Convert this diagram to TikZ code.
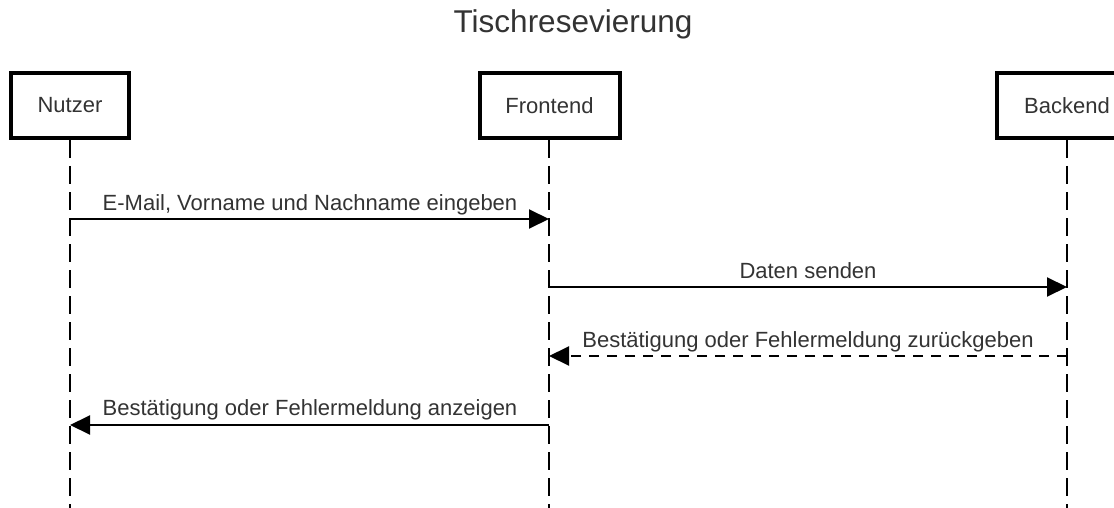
\documentclass[tikz,border=0pt]{standalone}
\usepackage{fontspec}
\setmainfont{Liberation Sans}
\usetikzlibrary{arrows.meta}
\tikzset{
  actor/.style={draw=black, line width=4pt, fill=white, minimum width=118pt, minimum height=65pt, inner sep=0pt, text=black!80, font=\fontsize{22}{26}\selectfont},
  actorwide/.style={actor, minimum width=140pt},
  lifeline/.style={draw=black, line width=2pt, dash pattern=on 18pt off 8pt},
  msg/.style={draw=black, line width=2pt, -{Triangle[length=20pt,width=19pt]}},
  reply/.style={msg, dash pattern=on 10pt off 8pt},
  msglabel/.style={anchor=base, text=black!80, font=\fontsize{22}{26}\selectfont, inner sep=0pt},
}
\begin{document}
\begin{tikzpicture}[x=1pt,y=-1pt]
\useasboundingbox (0,0) rectangle (1114,508);
\node[anchor=base, inner sep=0pt, text=black!80, font=\fontsize{31.5}{36}\selectfont] (title) at (573,33) {Tischresevierung};
% lifelines first (boxes drawn on top)
\coordinate (nEnd) at (70,512);
\coordinate (fEnd) at (549,512);
\coordinate (bEnd) at (1067,512);
\node[actor] (nutzer) at (70,105.5) {Nutzer};
\node[actorwide] (frontend) at (549.5,105.5) {Frontend};
\node[actorwide] (backend) at (1067,105.5) {Backend};
\draw[lifeline] (nutzer.south) -- (nEnd);
\draw[lifeline] (frontend.south -| fEnd) -- (fEnd);
\draw[lifeline] (backend.south) -- (bEnd);
% message points
\coordinate (n1) at (70,219);
\coordinate (f1) at (549,219);
\coordinate (f2) at (549,287);
\coordinate (b2) at (1067,287);
\coordinate (b3) at (1067,356);
\coordinate (f3) at (549,356);
\coordinate (f4) at (549,425);
\coordinate (n4) at (70,425);
\draw[msg] (n1) -- (f1);
\node[msglabel] (l1) at (310,210) {E-Mail, Vorname und Nachname eingeben};
\draw[msg] (f2) -- (b2);
\node[msglabel] (l2) at (808,278) {Daten senden};
\draw[reply] (b3) -- (f3);
\node[msglabel] (l3) at (808,347) {Bestätigung oder Fehlermeldung zurückgeben};
\draw[msg] (f4) -- (n4);
\node[msglabel] (l4) at (310,415) {Bestätigung oder Fehlermeldung anzeigen};
\end{tikzpicture}
\end{document}
